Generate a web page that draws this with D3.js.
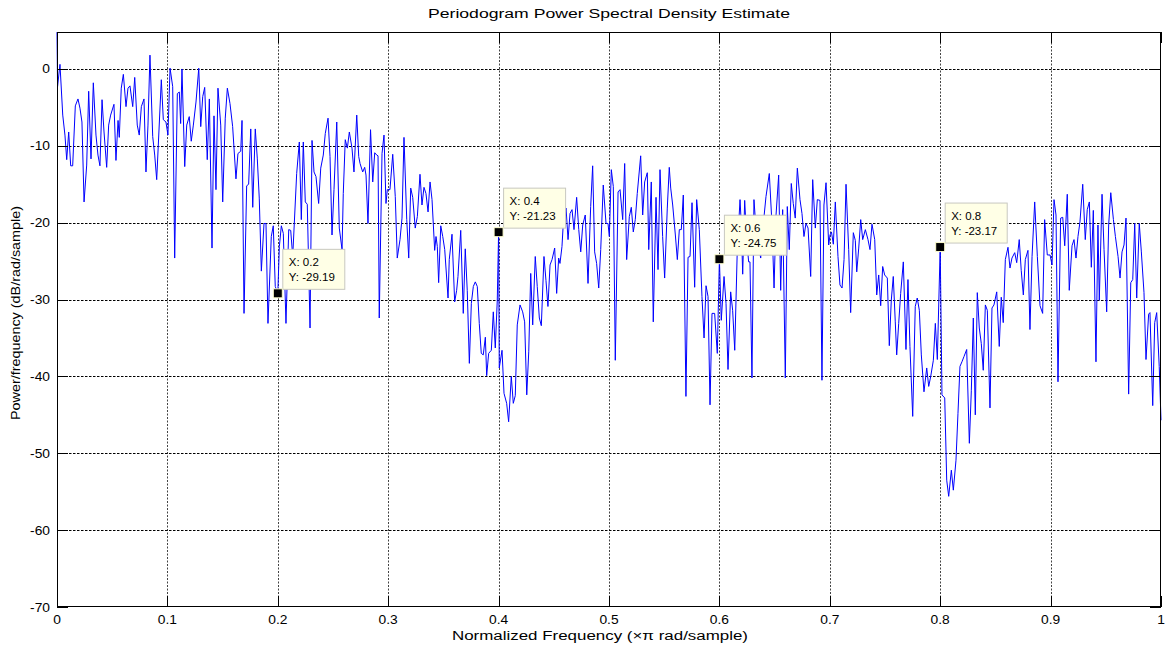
<!DOCTYPE html>
<html>
<head>
<meta charset="utf-8">
<script src="https://cdn.jsdelivr.net/npm/d3@7"></script>
<style>
  body { margin: 0; background: #ffffff; }
  text { font-family: "Liberation Sans", Arial, sans-serif; fill: #000; }
</style>
</head>
<body>
<svg id="chart" width="1168" height="651"></svg>
<script>
// Periodogram values (normalized freq, dB/rad/sample)
var freq = [
  0, 0.0005, 0.0027, 0.0052, 0.0072, 0.0088, 0.0106, 0.0124, 0.0142, 0.0166,
  0.0190, 0.0208, 0.0226, 0.0245, 0.0269, 0.0287, 0.0308, 0.0329, 0.0353, 0.0371,
  0.0389, 0.0408, 0.0426, 0.0450, 0.0468, 0.0486, 0.0516, 0.0534, 0.0553, 0.0564,
  0.0582, 0.0601, 0.0625, 0.0643, 0.0661, 0.0686, 0.0704, 0.0727, 0.0745, 0.0764,
  0.0788, 0.0806, 0.0824, 0.0842, 0.0867, 0.0885, 0.0903, 0.0945, 0.0963, 0.0987,
  0.1005, 0.1024, 0.1048, 0.1066, 0.1090, 0.1108, 0.1120, 0.1132, 0.1157, 0.1175,
  0.1198, 0.1216, 0.1235, 0.1259, 0.1284, 0.1302, 0.1320, 0.1338, 0.1361, 0.1380,
  0.1404, 0.1422, 0.1440, 0.1458, 0.1483, 0.1501, 0.1524, 0.1543, 0.1567, 0.1591,
  0.1621, 0.1639, 0.1664, 0.1676, 0.1694, 0.1718, 0.1736, 0.1755, 0.1773, 0.1796,
  0.1814, 0.1832, 0.1851, 0.1875, 0.1893, 0.1911, 0.1941, 0.1959, 0.1977, 0.2000,
  0.2014, 0.2032, 0.2050, 0.2074, 0.2099, 0.2117, 0.2135, 0.2153, 0.2171, 0.2195,
  0.2213, 0.2231, 0.2249, 0.2267, 0.2292, 0.2310, 0.2328, 0.2346, 0.2370, 0.2389,
  0.2412, 0.2430, 0.2455, 0.2473, 0.2491, 0.2509, 0.2534, 0.2557, 0.2582, 0.2593,
  0.2611, 0.2630, 0.2648, 0.2672, 0.2690, 0.2715, 0.2733, 0.2745, 0.2769, 0.2787,
  0.2799, 0.2817, 0.2840, 0.2860, 0.2878, 0.2896, 0.2908, 0.2919, 0.2944, 0.2962,
  0.2980, 0.2992, 0.3016, 0.3041, 0.3064, 0.3082, 0.3107, 0.3125, 0.3143, 0.3168,
  0.3186, 0.3204, 0.3222, 0.3245, 0.3264, 0.3288, 0.3306, 0.3324, 0.3342, 0.3361,
  0.3379, 0.3397, 0.3421, 0.3433, 0.3445, 0.3457, 0.3476, 0.3494, 0.3512, 0.3542,
  0.3553, 0.3578, 0.3602, 0.3620, 0.3632, 0.3657, 0.3680, 0.3698, 0.3716, 0.3735,
  0.3753, 0.3771, 0.3789, 0.3807, 0.3825, 0.3843, 0.3861, 0.3880, 0.3892, 0.3910,
  0.3934, 0.3952, 0.3970, 0.3988, 0.4000, 0.4006, 0.4031, 0.4049, 0.4073, 0.4091,
  0.4115, 0.4133, 0.4151, 0.4169, 0.4194, 0.4218, 0.4236, 0.4255, 0.4273, 0.4291,
  0.4309, 0.4332, 0.4350, 0.4369, 0.4387, 0.4411, 0.4429, 0.4447, 0.4466, 0.4484,
  0.4508, 0.4526, 0.4544, 0.4556, 0.4574, 0.4586, 0.4611, 0.4629, 0.4647, 0.4665,
  0.4683, 0.4707, 0.4726, 0.4744, 0.4762, 0.4785, 0.4810, 0.4834, 0.4852, 0.4870,
  0.4888, 0.4907, 0.4925, 0.4948, 0.4973, 0.4991, 0.5003, 0.5021, 0.5039, 0.5057,
  0.5082, 0.5100, 0.5124, 0.5142, 0.5160, 0.5184, 0.5202, 0.5220, 0.5238, 0.5256,
  0.5287, 0.5305, 0.5323, 0.5347, 0.5360, 0.5383, 0.5401, 0.5426, 0.5444, 0.5462,
  0.5486, 0.5504, 0.5528, 0.5546, 0.5559, 0.5577, 0.5601, 0.5619, 0.5637, 0.5655,
  0.5673, 0.5697, 0.5716, 0.5734, 0.5752, 0.5776, 0.5794, 0.5818, 0.5842, 0.5861,
  0.5879, 0.5897, 0.5915, 0.5933, 0.5957, 0.5981, 0.6000, 0.6017, 0.6042, 0.6060,
  0.6078, 0.6102, 0.6120, 0.6139, 0.6162, 0.6187, 0.6198, 0.6211, 0.6229, 0.6247,
  0.6265, 0.6277, 0.6295, 0.6313, 0.6332, 0.6356, 0.6374, 0.6398, 0.6422, 0.6452,
  0.6476, 0.6495, 0.6513, 0.6537, 0.6555, 0.6573, 0.6597, 0.6615, 0.6633, 0.6651,
  0.6669, 0.6687, 0.6706, 0.6730, 0.6748, 0.6766, 0.6784, 0.6803, 0.6827, 0.6845,
  0.6869, 0.6887, 0.6911, 0.6929, 0.6947, 0.6966, 0.6990, 0.7002, 0.7015, 0.7032,
  0.7050, 0.7074, 0.7092, 0.7111, 0.7129, 0.7147, 0.7171, 0.7189, 0.7213, 0.7231,
  0.7244, 0.7262, 0.7280, 0.7298, 0.7322, 0.7346, 0.7364, 0.7382, 0.7407, 0.7425,
  0.7443, 0.7461, 0.7479, 0.7497, 0.7521, 0.7539, 0.7557, 0.7575, 0.7593, 0.7606,
  0.7624, 0.7642, 0.7666, 0.7690, 0.7708, 0.7726, 0.7751, 0.7774, 0.7792, 0.7811,
  0.7829, 0.7853, 0.7878, 0.7896, 0.7914, 0.7938, 0.7956, 0.7974, 0.8000, 0.8016,
  0.8041, 0.8059, 0.8077, 0.8101, 0.8119, 0.8143, 0.8161, 0.8179, 0.8197, 0.8216,
  0.8240, 0.8264, 0.8282, 0.8300, 0.8318, 0.8336, 0.8354, 0.8372, 0.8390, 0.8409,
  0.8427, 0.8451, 0.8469, 0.8487, 0.8512, 0.8535, 0.8553, 0.8571, 0.8590, 0.8614,
  0.8632, 0.8650, 0.8675, 0.8693, 0.8716, 0.8734, 0.8753, 0.8771, 0.8795, 0.8813,
  0.8832, 0.8856, 0.8880, 0.8904, 0.8928, 0.8946, 0.8970, 0.8995, 0.9013, 0.9031,
  0.9049, 0.9067, 0.9091, 0.9110, 0.9128, 0.9151, 0.9169, 0.9194, 0.9212, 0.9230,
  0.9248, 0.9266, 0.9291, 0.9314, 0.9332, 0.9351, 0.9369, 0.9387, 0.9411, 0.9429,
  0.9441, 0.9466, 0.9484, 0.9508, 0.9526, 0.9545, 0.9569, 0.9587, 0.9611, 0.9629,
  0.9647, 0.9665, 0.9683, 0.9707, 0.9726, 0.9744, 0.9762, 0.9780, 0.9803, 0.9822,
  0.9846, 0.9864, 0.9888, 0.9900, 0.9925, 0.9943, 0.9961, 0.9984, 1.0000
];
var psd = [
  4.8, -2.3, 0.6, -6.0, -8.6, -11.8, -8.2, -12.6, -12.6, -4.8,
  -3.9, -5.1, -6.9, -17.3, -12.5, -2.9, -11.7, -1.8, -8.6, -11.2,
  -12.6, -4.0, -8.2, -12.8, -7.3, -6.0, -4.6, -11.9, -6.7, -8.9,
  -2.5, -0.7, -4.9, -2.5, -2.2, -4.9, -1.1, -7.3, -8.6, -4.9,
  -3.9, -13.4, -7.3, 1.8, -8.8, -11.2, -14.4, -1.4, -6.6, -6.9,
  -8.6, 0.1, -2.3, -24.6, -3.2, -3.0, -7.1, 0.0, -12.7, -7.3,
  -6.2, -9.4, -7.3, -4.3, 0.1, -7.5, -3.6, -2.4, -11.8, -3.9,
  -23.3, -6.1, -15.7, -2.5, -7.3, -17.3, -6.4, -2.5, -4.5, -7.5,
  -14.3, -11.0, -10.7, -6.7, -31.8, -15.2, -15.0, -7.8, -18.0, -7.8,
  -11.6, -16.8, -26.3, -20.1, -20.1, -33.1, -21.8, -20.4, -28.3, -29.19,
  -23.1, -20.4, -21.4, -33.1, -20.9, -21.0, -24.4, -19.0, -13.6, -9.5,
  -19.6, -9.5, -17.3, -17.6, -33.7, -9.3, -13.4, -14.0, -17.5, -12.9,
  -11.2, -8.4, -6.4, -11.4, -21.6, -15.7, -6.9, -20.7, -23.5, -16.2,
  -9.2, -10.3, -8.2, -10.3, -13.4, -6.0, -11.4, -12.3, -13.4, -12.8,
  -13.8, -20.1, -7.9, -14.7, -10.9, -11.2, -11.3, -32.4, -11.0, -8.6,
  -17.5, -15.7, -15.7, -11.1, -16.6, -24.6, -22.2, -19.4, -8.9, -19.6,
  -24.6, -15.5, -16.7, -20.7, -19.2, -13.7, -17.7, -15.4, -16.2, -18.6,
  -14.7, -17.0, -23.6, -21.8, -23.1, -27.8, -20.4, -21.8, -23.5, -29.8,
  -24.8, -21.5, -30.3, -28.8, -27.0, -21.0, -31.8, -23.4, -28.8, -38.3,
  -30.5, -28.3, -27.7, -28.3, -33.1, -37.0, -37.2, -34.9, -39.9, -37.0,
  -36.6, -31.6, -36.3, -30.1, -21.23, -38.9, -36.6, -42.2, -43.5, -45.9,
  -40.0, -43.5, -42.5, -33.3, -30.7, -31.6, -32.9, -42.4, -36.8, -26.6,
  -33.3, -24.4, -28.3, -32.4, -33.4, -24.4, -27.5, -30.9, -25.5, -24.8,
  -23.3, -29.2, -24.6, -25.3, -23.1, -20.1, -18.1, -22.2, -18.8, -18.3,
  -20.9, -16.7, -20.9, -23.8, -20.3, -19.0, -27.9, -17.9, -12.6, -23.8,
  -25.3, -28.5, -23.5, -15.1, -20.1, -20.1, -21.8, -13.1, -15.3, -37.9,
  -16.0, -15.7, -19.6, -12.3, -24.8, -19.2, -18.0, -21.2, -19.6, -16.2,
  -11.3, -19.0, -14.7, -13.5, -23.5, -14.7, -32.9, -16.7, -26.1, -13.1,
  -21.8, -27.2, -18.1, -12.8, -15.5, -17.7, -21.6, -24.8, -20.9, -20.9,
  -16.4, -42.6, -24.5, -24.4, -17.4, -28.4, -17.0, -20.9, -29.6, -35.0,
  -28.2, -29.6, -43.7, -31.8, -31.8, -37.0, -24.75, -32.7, -27.0, -30.5,
  -39.1, -29.0, -31.4, -36.6, -23.5, -17.0, -20.1, -26.7, -17.1, -22.2,
  -25.1, -25.1, -40.2, -17.0, -20.9, -23.1, -24.6, -20.1, -16.6, -13.6,
  -20.1, -28.5, -19.0, -13.8, -28.8, -18.3, -40.2, -17.9, -23.5, -14.9,
  -17.5, -19.4, -12.9, -17.0, -18.8, -21.8, -20.1, -20.7, -27.0, -14.4,
  -20.7, -17.0, -17.1, -40.5, -17.7, -14.8, -22.9, -21.6, -21.2, -22.8,
  -17.3, -24.4, -28.1, -28.5, -24.8, -15.0, -23.5, -31.7, -21.3, -22.3,
  -26.4, -23.3, -19.6, -22.2, -20.9, -22.2, -23.5, -20.2, -22.2, -29.4,
  -26.8, -30.8, -25.7, -26.8, -27.2, -36.0, -30.1, -27.0, -32.9, -37.2,
  -33.1, -29.2, -25.1, -36.5, -27.4, -36.1, -45.2, -30.9, -29.8, -31.4,
  -37.2, -42.0, -38.9, -41.3, -40.0, -37.9, -33.1, -37.8, -23.17, -42.4,
  -42.8, -53.5, -55.6, -52.2, -54.8, -50.9, -44.8, -38.7, -38.1, -37.4,
  -36.5, -48.7, -41.8, -32.4, -45.0, -29.1, -33.7, -35.7, -39.2, -30.7,
  -31.4, -44.1, -31.1, -30.7, -29.0, -36.1, -29.7, -33.0, -24.8, -23.2,
  -25.9, -24.6, -23.9, -25.2, -22.2, -26.2, -29.4, -24.8, -23.6, -33.9,
  -24.4, -17.3, -24.4, -30.8, -31.8, -19.6, -24.2, -24.2, -25.5, -17.0,
  -19.0, -40.7, -19.4, -19.3, -23.0, -16.3, -28.8, -23.0, -22.2, -24.6,
  -21.8, -19.9, -15.0, -22.2, -18.3, -17.3, -25.8, -18.4, -38.1, -20.3,
  -30.1, -16.3, -23.5, -31.6, -20.3, -16.1, -19.6, -21.8, -24.4, -27.2,
  -23.8, -22.9, -19.4, -42.3, -27.8, -27.4, -20.1, -29.8, -20.1, -23.8,
  -29.1, -37.8, -31.9, -31.7, -43.8, -33.0, -31.7, -38.7, -45.7
];

var xTicks = [0, 0.1, 0.2, 0.3, 0.4, 0.5, 0.6, 0.7, 0.8, 0.9, 1];
var xTickLabels = ["0", "0.1", "0.2", "0.3", "0.4", "0.5", "0.6", "0.7", "0.8", "0.9", "1"];
var yTicks = [-70, -60, -50, -40, -30, -20, -10, 0];

// data cursors
var tipFreq = [0.2, 0.4, 0.6, 0.8];
var tipPsd = [-29.19, -21.23, -24.75, -23.17];
var tipXText = ["X: 0.2", "X: 0.4", "X: 0.6", "X: 0.8"];
var tipYText = ["Y: -29.19", "Y: -21.23", "Y: -24.75", "Y: -23.17"];

var svg = d3.select("#chart");
var box = { left: 57, top: 32, right: 1161, bottom: 607 };
var tickLen = 11;

var x = d3.scaleLinear().domain([0, 1]).range([box.left, box.right]);
var y = d3.scaleLinear().domain([-70, 4.81]).range([box.bottom, box.top]);

function px(v) { return Math.round(v) + 0.5; }

// grid
svg.append("g").selectAll("line")
    .data(xTicks.slice(1, -1))
    .join("line")
    .attr("x1", function(d) { return px(x(d)); })
    .attr("x2", function(d) { return px(x(d)); })
    .attr("y1", box.top)
    .attr("y2", box.bottom)
    .attr("stroke", "#444")
    .attr("stroke-width", 1)
    .attr("stroke-dasharray", "2,1.5");

svg.append("g").selectAll("line")
    .data(yTicks.slice(1))
    .join("line")
    .attr("x1", box.left)
    .attr("x2", box.right)
    .attr("y1", function(d) { return px(y(d)); })
    .attr("y2", function(d) { return px(y(d)); })
    .attr("stroke", "#000")
    .attr("stroke-width", 1)
    .attr("stroke-dasharray", "2.5,1.5");

// spectrum
var line = d3.line()
    .x(function(d, i) { return x(freq[i]); })
    .y(function(d) { return y(d); });

svg.append("path")
    .datum(psd)
    .attr("d", line)
    .attr("fill", "none")
    .attr("stroke", "#0000ff")
    .attr("stroke-width", 1)
    .attr("stroke-linejoin", "round");

// axes box
svg.append("rect")
    .attr("x", box.left + 0.5)
    .attr("y", box.top + 0.5)
    .attr("width", box.right - box.left - 1)
    .attr("height", box.bottom - box.top - 1)
    .attr("fill", "none")
    .attr("stroke", "#000")
    .attr("stroke-width", 1);

// inward ticks on all four sides
var ticks = svg.append("g").attr("stroke", "#000").attr("stroke-width", 1);
xTicks.forEach(function(t) {
    var xp = px(x(t));
    ticks.append("line").attr("x1", xp).attr("x2", xp)
        .attr("y1", box.bottom).attr("y2", box.bottom - tickLen);
    ticks.append("line").attr("x1", xp).attr("x2", xp)
        .attr("y1", box.top).attr("y2", box.top + tickLen);
});
yTicks.forEach(function(t) {
    var yp = px(y(t));
    ticks.append("line").attr("x1", box.left).attr("x2", box.left + tickLen)
        .attr("y1", yp).attr("y2", yp);
    ticks.append("line").attr("x1", box.right).attr("x2", box.right - tickLen)
        .attr("y1", yp).attr("y2", yp);
});

// tick labels
svg.append("g").selectAll("text")
    .data(xTicks)
    .join("text")
    .attr("transform", function(d) { return "translate(" + x(d) + "," + (box.bottom + 17) + ") scale(1.15,1)"; })
    .attr("text-anchor", "middle")
    .style("font-size", "12px")
    .text(function(d, i) { return xTickLabels[i]; });

svg.append("g").selectAll("text")
    .data(yTicks)
    .join("text")
    .attr("transform", function(d) { return "translate(" + (box.left - 7) + "," + (y(d) + 4.5) + ") scale(1.15,1)"; })
    .attr("text-anchor", "end")
    .style("font-size", "12px")
    .text(function(d) { return d; });

// title and axis labels
svg.append("text")
    .attr("x", 609)
    .attr("y", 18)
    .attr("text-anchor", "middle")
    .attr("textLength", 362)
    .attr("lengthAdjust", "spacingAndGlyphs")
    .style("font-size", "12px")
    .text("Periodogram Power Spectral Density Estimate");

svg.append("text")
    .attr("x", 600)
    .attr("y", 640)
    .attr("text-anchor", "middle")
    .attr("textLength", 296)
    .attr("lengthAdjust", "spacingAndGlyphs")
    .style("font-size", "12px")
    .text("Normalized Frequency  (\u00d7\u03c0 rad/sample)");

svg.append("text")
    .attr("transform", "translate(20," + 313 + ") rotate(-90)")
    .attr("text-anchor", "middle")
    .attr("textLength", 214)
    .attr("lengthAdjust", "spacingAndGlyphs")
    .style("font-size", "12px")
    .text("Power/frequency (dB/rad/sample)");

// data cursor boxes
var tips = svg.append("g").selectAll("g")
    .data(tipFreq)
    .join("g")
    .attr("transform", function(d, i) { return "translate(" + x(d) + "," + y(tipPsd[i]) + ")"; });

tips.append("rect")
    .attr("x", 5)
    .attr("y", -44)
    .attr("width", 62)
    .attr("height", 40)
    .attr("fill", "#ffffe6")
    .attr("stroke", "#c8c8c0")
    .attr("stroke-width", 1);

tips.append("text")
    .attr("x", 11)
    .attr("y", -27.5)
    .style("font-size", "11.5px")
    .text(function(d, i) { return tipXText[i]; });

tips.append("text")
    .attr("x", 11)
    .attr("y", -12.5)
    .style("font-size", "11.5px")
    .text(function(d, i) { return tipYText[i]; });

tips.append("rect")
    .attr("x", -4.5)
    .attr("y", -4.5)
    .attr("width", 9)
    .attr("height", 9)
    .attr("fill", "#000")
    .attr("stroke", "#ffffd0")
    .attr("stroke-width", 1);
</script>
</body>
</html>
